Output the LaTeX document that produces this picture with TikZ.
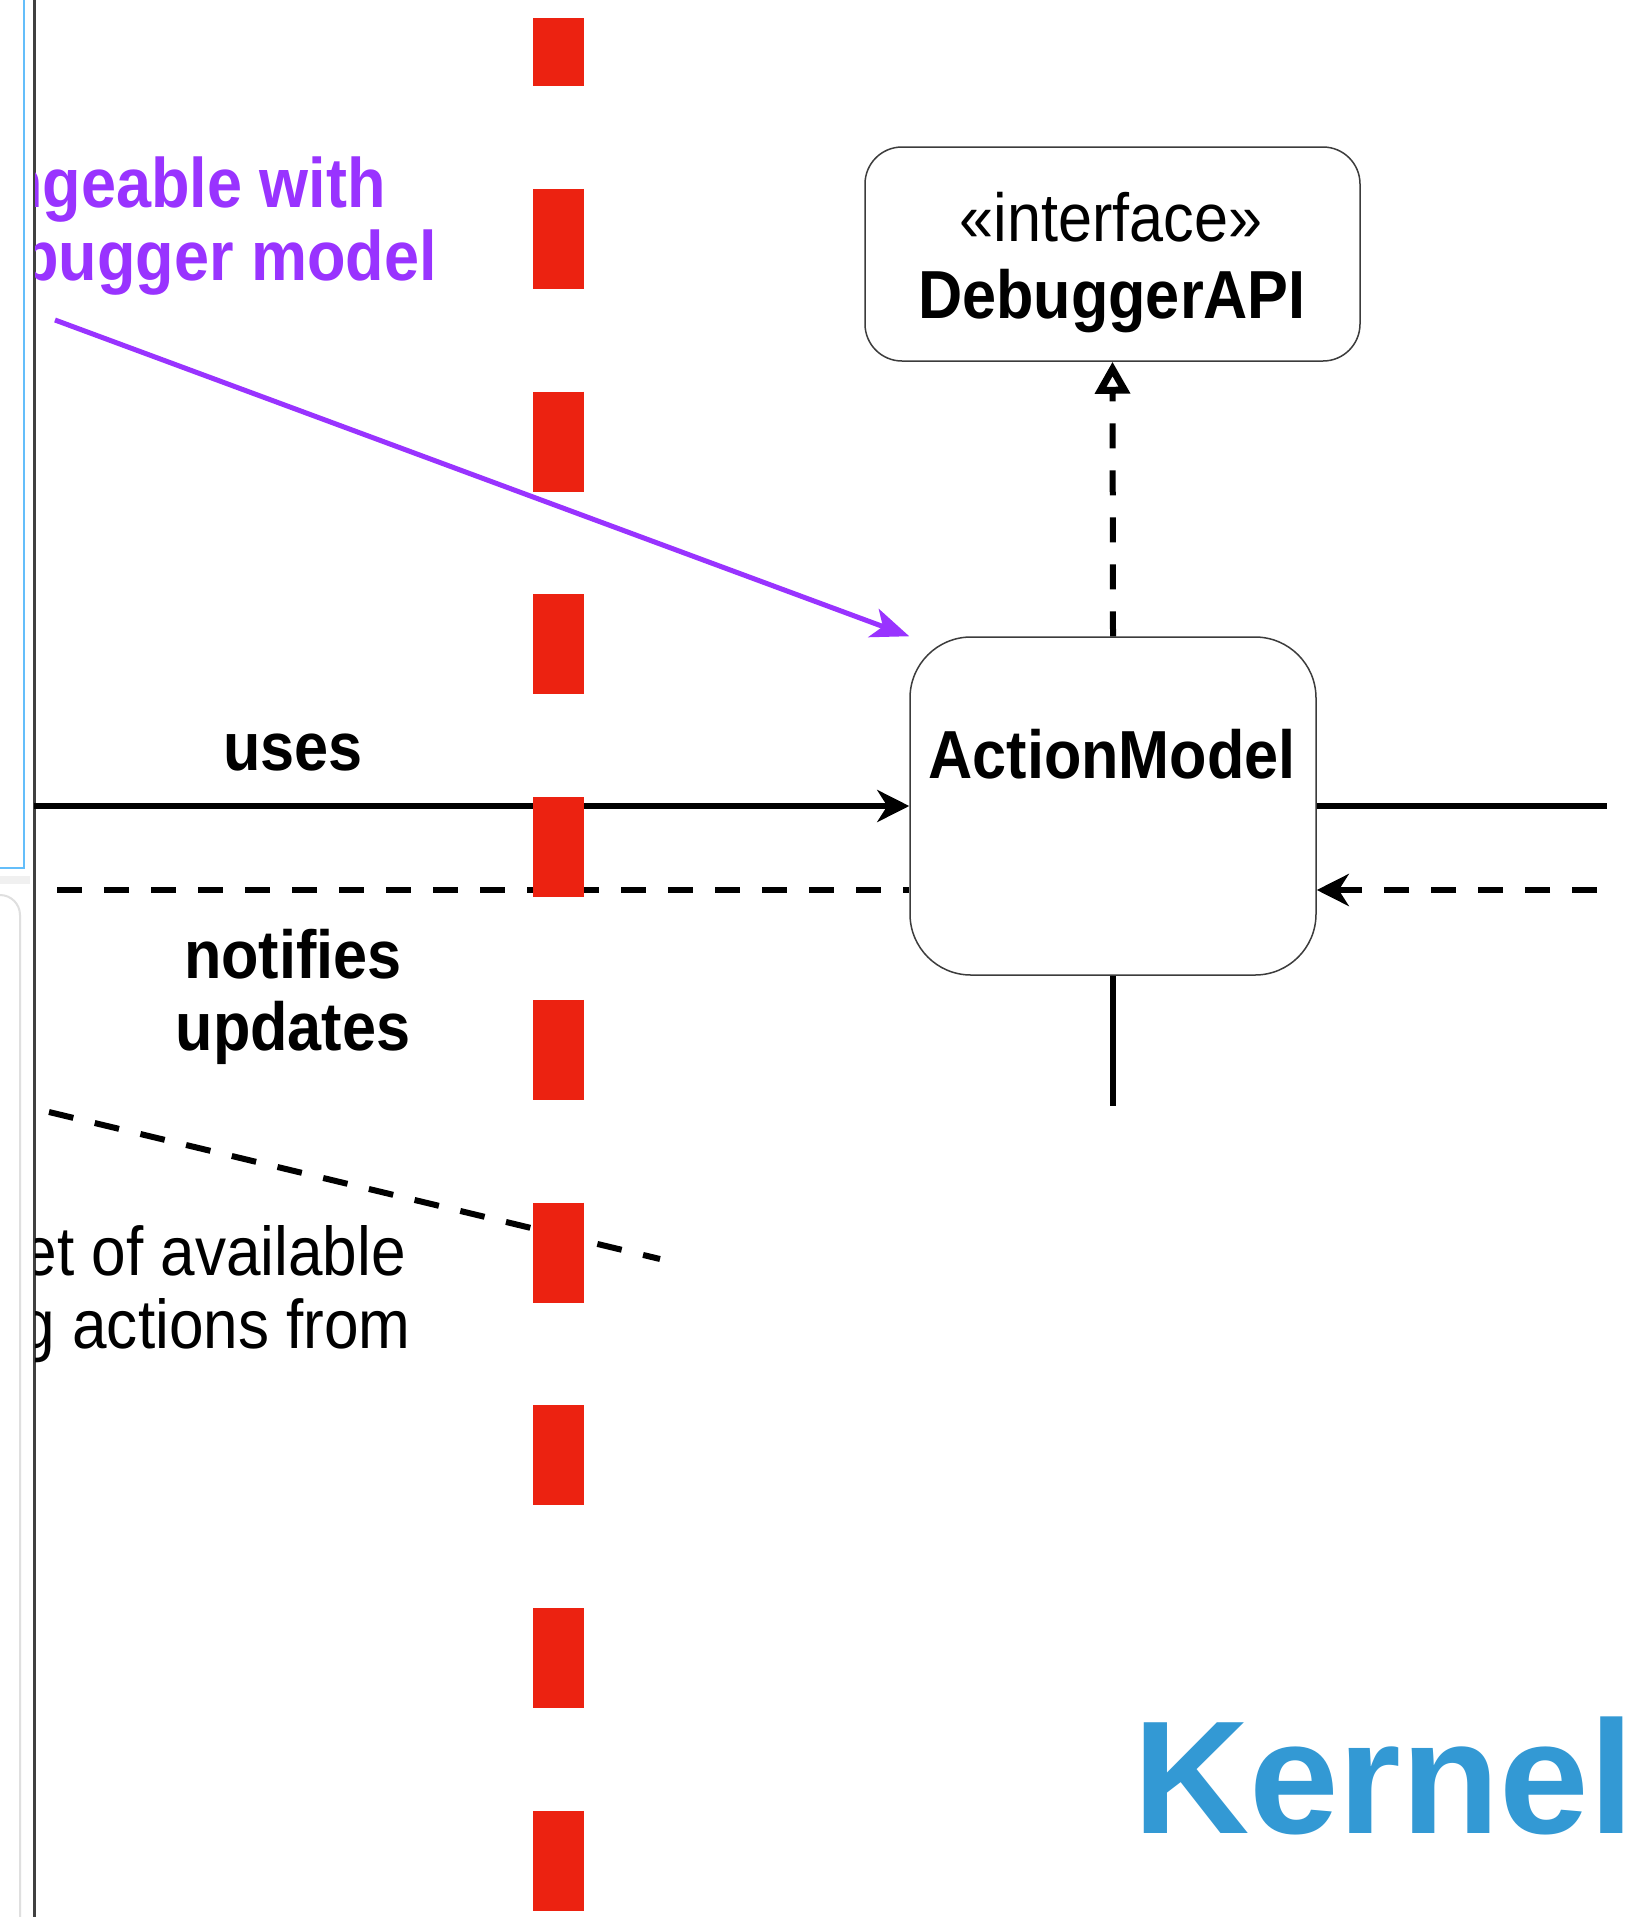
\documentclass[tikz,border=0pt]{standalone}
\usepackage{fontspec}
\setmainfont{Liberation Sans}[FakeStretch=0.9]
\newfontfamily\kernelfont{Liberation Sans}
\usetikzlibrary{arrows.meta}
\definecolor{redline}{RGB}{236,34,17}
\definecolor{purp}{RGB}{153,51,255}
\definecolor{kblue}{RGB}{51,153,212}
\definecolor{lblue}{RGB}{100,190,250}
\definecolor{boxline}{RGB}{60,60,60}
\tikzset{
  umlbox/.style={draw=boxline, line width=1.5pt, fill=white, inner sep=0pt},
  lbl/.style={font=\fontsize{68}{71}\selectfont\bfseries, inner sep=0pt, anchor=base, align=center},
  ptext/.style={font=\fontsize{70}{75}\selectfont\bfseries, text=purp, inner sep=0pt, anchor=base east},
  btext/.style={font=\fontsize{69}{73}\selectfont, inner sep=0pt, anchor=base east},
  conn/.style={line width=6pt, black},
  dsh/.style={conn, dash pattern=on 25pt off 22pt},
  tipb/.style={-{Stealth[length=32pt,width=32pt,inset=10pt]}},
}
\begin{document}
\begin{tikzpicture}[x=1pt,y=-1pt]
\fill[white] (0,0) rectangle (1639,1917);
\useasboundingbox (0,0) rectangle (1639,1917);

% left window edges
\fill[gray!12] (0,876) rectangle (30,884);
\draw[gray!25, line width=2pt, rounded corners=20pt] (0,895) -- (20,895) -- (20,1917);
\draw[lblue, line width=2pt] (24,0) -- (24,868) -- (0,868);
\draw[black!75, line width=3pt] (34,0) -- (34,1917);

% boxes
\node[umlbox, rounded corners=37pt, minimum width=495pt, minimum height=214pt] (api) at (1112.5,254) {};
\node[inner sep=0pt, anchor=base, font=\fontsize{68}{71}\selectfont] (iface) at (1111,241) {«interface»};
\node[lbl] (apiname) at (1112,318) {DebuggerAPI};

\node[umlbox, rounded corners=61pt, minimum width=406pt, minimum height=338pt] (am) at (1113,806) {};
\node[lbl] (amname) at (1112,778) {ActionModel};

% clipped texts at the left border
\begin{scope}
\clip (35,0) rectangle (1639,1917);
\node[ptext] (p1) at (386,207) {Changeable with};
\node[ptext] (p2) at (437,280) {debugger model};
\node[btext] (b1) at (406,1275) {Gets set of available};
\node[btext] (b2) at (411,1348) {debugging actions from};
\end{scope}

% labels
\node[lbl] (uses) at (293,770) {uses};
\node[lbl] (notif) at (293,978) {notifies};
\node[lbl] (upd) at (293,1050) {updates};

% connectors
\coordinate (usesL) at (34,806);
\coordinate (notL) at (57,890);
\coordinate (usesR) at (1607,806);
\coordinate (notR) at (1597,890);
\coordinate (amB) at (1113,1106);
\coordinate (pS) at (55,320);
\coordinate (dA) at (49,1112);
\coordinate (dB) at (660,1259);

\draw[conn, tipb] (usesL) -- (am.west);
\draw[dsh] (notL) -- (notL -| am.west);
\draw[conn] (am.east) -- (usesR);
\draw[dsh, tipb] (notR) -- (notR -| am.east);
\draw[conn] (am.south) -- (amB);
\draw[dsh, -{Triangle[open,length=32pt,width=34pt,line width=7pt]}] (am.north) -- (api.south);
\draw[dsh] (dA) -- (dB);
\draw[purp, line width=5pt, -{Stealth[length=38pt,width=30pt,inset=10pt]}] (pS) -- (am.north west);

% red boundary
\draw[redline, line width=51pt, dash pattern=on 100pt off 102.75pt, dash phase=32pt] (558.5,18) -- (558.5,1911);

% Kernel
\node[font=\kernelfont\fontsize{161}{163}\selectfont\bfseries, text=kblue, inner sep=0pt, anchor=base west] (kernel) at (1133,1833) {Kernel};
\end{tikzpicture}
\end{document}
